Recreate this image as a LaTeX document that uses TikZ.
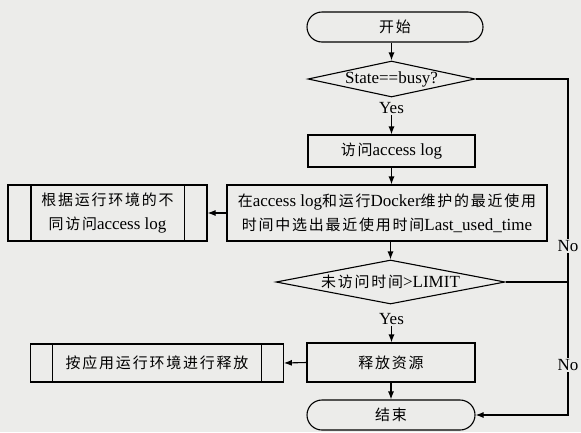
\documentclass[tikz,border=0pt]{standalone}
\usepackage{fontspec}
\setmainfont{Liberation Serif}
\newfontfamily\cjk[Scale=0.88,LetterSpace=12]{Noto Sans CJK SC}
\usetikzlibrary{shapes.geometric,arrows.meta}
\definecolor{bg}{RGB}{236,236,234}
\newcommand{\zh}[1]{{\cjk #1}}
\begin{document}
\begin{tikzpicture}[x=1pt,y=-1pt,
  font=\fontsize{17}{24}\selectfont,
  every path/.style={line width=1.1pt},
  procbox/.style={draw, inner sep=0pt, align=center},
  termbox/.style={draw, rounded corners=15pt, inner sep=0pt, minimum height=30pt},
  decbox/.style={draw, diamond, inner sep=0pt},
  arr/.style={-{Latex[length=8pt,width=6pt]}},
  lbl/.style={fill=bg, inner sep=1pt}]
\fill[bg] (0,0) rectangle (581,432);
\useasboundingbox (0,0) rectangle (581,432);

\node[termbox, minimum width=176pt] (start) at (395,27) {\zh{开始}};
\node[decbox, minimum width=167pt, minimum height=36pt] (d1) at (391.5,79) {};
\node at (d1) {State==busy?};
\node[inner sep=1pt] (yes1) at (391.5,108) {Yes};
\node[procbox, minimum width=167pt, minimum height=32pt] (A) at (391.5,151) {\zh{访问}access log};
\node[procbox, minimum width=320pt, minimum height=56pt] (B) at (387,213)
  {\zh{在}access log\zh{和运行}Docker\zh{维护的最近使用}\\\zh{时间中选出最近使用时间}Last\_used\_time};
\node[procbox, minimum width=199pt, minimum height=56pt] (S1) at (107.5,213)
  {\zh{根据运行环境的不}\\\zh{同访问}access log};
\node[decbox, minimum width=229pt, minimum height=44pt] (d2) at (390.5,282) {};
\node at (d2) {\zh{未访问时间}>LIMIT};
\node[inner sep=1pt] (yes2) at (391.5,319) {Yes};
\node[procbox, minimum width=168pt, minimum height=39pt] (C) at (391,362.5) {\zh{释放资源}};
\node[procbox, minimum width=252.6pt, minimum height=38pt] (S2) at (157,363) {\zh{按应用运行环境进行释放}};
\node[termbox, minimum width=168pt] (E) at (391,415) {\zh{结束}};

% subroutine inner bars
\draw ([xshift=23.5pt]S1.north west) -- ([xshift=23.5pt]S1.south west);
\draw ([xshift=-23.5pt]S1.north east) -- ([xshift=-23.5pt]S1.south east);
\draw ([xshift=22.6pt]S2.north west) -- ([xshift=22.6pt]S2.south west);
\draw ([xshift=-22.6pt]S2.north east) -- ([xshift=-22.6pt]S2.south east);

% main flow
\draw[arr] (d1.north |- start.south) -- (d1.north);
\draw[arr] (yes1.south) -- (A.north);
\draw[arr] (A.south) -- (A.south |- B.north);
\draw[arr] (B.west) -- (S1.east);
\draw[arr] (d2.north |- B.south) -- (d2.north);
\draw[arr] (yes2.south) -- (yes2.south |- C.north);
\draw[arr] (C.west) -- (S2.east);
\draw[arr] (C.south) -- (E.north);

% No branch
\coordinate (c1) at (568,79);
\node[lbl] (no1) at (568,246) {No};
\node[lbl] (no2) at (568,365) {No};
\draw (d1.east) -- (c1) -- (no1.north);
\draw (no1.south) -- (no2.north);
\draw[arr] (no2.south) |- (E.east);
\draw (d2.east) -- (d2.east -| c1);
\end{tikzpicture}
\end{document}
